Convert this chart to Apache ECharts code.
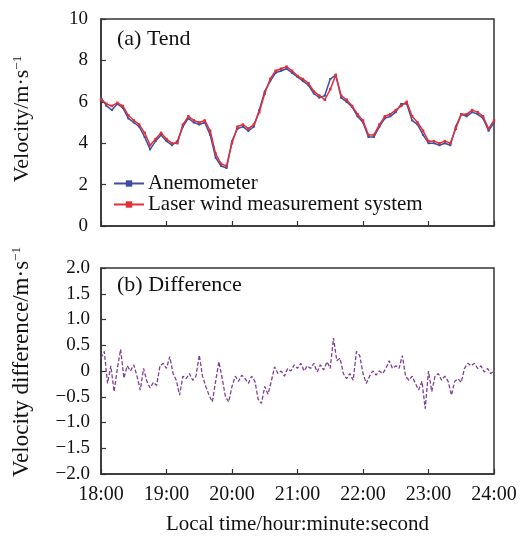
<!DOCTYPE html>
<html>
<head>
<meta charset="utf-8">
<script src="https://cdn.jsdelivr.net/npm/echarts@6/dist/echarts.min.js"></script>
<style>html,body{margin:0;padding:0;background:#fff}#c{width:527px;height:538px}</style>
</head>
<body>
<div id="c"></div>
<script>
// x tick labels (every 60 minutes from 18:00)
const xTickLabels = ['18:00','19:00','20:00','21:00','22:00','23:00','24:00'];
// velocity samples every 5 minutes from 18:00 (minutes since 18:00)
const velMinutes = [0,5,10,15,20,25,30,35,40,45,50,55,60,65,70,75,80,85,90,95,100,105,110,115,120,125,130,135,140,145,150,155,160,165,170,175,180,185,190,195,200,205,210,215,220,225,230,235,240,245,250,255,260,265,270,275,280,285,290,295,300,305,310,315,320,325,330,335,340,345,350,355,360];
const anemometer = [6.2,5.8,5.6,5.9,5.7,5.2,5.0,4.8,4.3,3.7,4.1,4.4,4.1,3.9,4.1,4.8,5.2,5.0,4.9,5.0,4.4,3.3,2.9,2.8,4.1,4.7,4.8,4.6,4.8,5.6,6.5,7.0,7.4,7.5,7.6,7.4,7.2,7.0,6.8,6.4,6.2,6.3,7.1,7.3,6.2,6.0,5.75,5.3,5.0,4.3,4.3,4.8,5.2,5.3,5.5,5.9,5.9,5.1,4.9,4.4,4.0,4.0,3.9,4.0,3.9,4.8,5.4,5.3,5.5,5.4,5.2,4.6,5.0];
const laser = [6.1,5.9,5.8,5.95,5.8,5.35,5.1,4.9,4.5,3.9,4.2,4.5,4.2,4.0,4.0,4.9,5.3,5.1,5.0,5.1,4.6,3.5,3.0,2.9,4.0,4.8,4.9,4.7,4.9,5.5,6.4,7.1,7.5,7.6,7.7,7.5,7.25,7.1,6.9,6.5,6.3,6.1,6.6,7.3,6.3,6.1,5.8,5.4,5.1,4.4,4.4,4.9,5.3,5.4,5.6,5.8,6.0,5.3,5.0,4.6,4.1,4.1,4.0,4.1,4.0,4.7,5.4,5.4,5.6,5.5,5.3,4.7,5.1];
// velocity difference samples every 3 minutes from 18:00
const diffMinutes = [0,3,6,9,12,15,18,21,24,27,30,33,36,39,42,45,48,51,54,57,60,63,66,69,72,75,78,81,84,87,90,93,96,99,102,105,108,111,114,117,120,123,126,129,132,135,138,141,144,147,150,153,156,159,162,165,168,171,174,177,180,183,186,189,192,195,198,201,204,207,210,213,216,219,222,225,228,231,234,237,240,243,246,249,252,255,258,261,264,267,270,273,276,279,282,285,288,291,294,297,300,303,306,309,312,315,318,321,324,327,330,333,336,339,342,345,348,351,354,357,360];
const difference = [0.25,0.38,-0.24,0.1,-0.4,0.05,0.42,-0.14,0.1,0.0,0.12,-0.1,-0.37,0.05,-0.2,-0.33,-0.22,-0.28,0.1,0.15,0.05,0.28,-0.05,-0.18,-0.47,-0.1,-0.15,-0.05,-0.18,-0.1,0.31,-0.1,-0.3,-0.47,-0.6,-0.2,0.18,-0.14,-0.5,-0.6,-0.3,-0.1,-0.2,-0.08,-0.15,-0.24,-0.1,-0.2,-0.55,-0.63,-0.3,-0.45,-0.2,0.08,-0.05,0.0,-0.1,0.05,0.0,0.12,0.05,0.15,0.0,0.1,0.05,0.15,-0.02,0.12,0.02,0.18,0.05,0.64,0.2,0.25,-0.05,-0.15,-0.05,-0.18,0.38,0.3,-0.05,-0.24,-0.1,0.0,-0.08,0.0,-0.05,0.05,0.2,0.05,0.1,0.05,0.3,-0.1,-0.18,-0.1,-0.24,-0.37,-0.2,-0.73,0.0,-0.4,-0.1,-0.05,-0.18,-0.1,-0.2,-0.47,-0.2,-0.15,-0.22,0.05,0.15,0.1,0.15,0.05,0.1,-0.02,0.05,-0.05,0.0];

const FONT = 'Liberation Serif';
const pair = (xs, ys) => xs.map((x, i) => [x, ys[i]]);
const fmtDiff = v => v === 0 ? '0' : (v < 0 ? '\u2212' + Math.abs(v).toFixed(1) : v.toFixed(1));

const chart = echarts.init(document.getElementById('c'));
const axisLine = { show: true, onZero: false, lineStyle: { color: '#333', width: 1.5 } };
const axisTick = { show: true, inside: true, length: 5, lineStyle: { color: '#333', width: 1.2 } };
chart.setOption({
  animation: false,
  backgroundColor: '#fff',
  grid: [
    { left: 101, top: 19, width: 393, height: 207, show: true, borderColor: '#333', borderWidth: 1.5 },
    { left: 101, top: 268, width: 393, height: 206, show: true, borderColor: '#333', borderWidth: 1.5 }
  ],
  xAxis: [
    { gridIndex: 0, type: 'value', min: 0, max: 360, interval: 60, axisLine, axisTick, splitLine: { show: false }, axisLabel: { show: false } },
    { gridIndex: 1, type: 'value', min: 0, max: 360, interval: 60, axisLine, axisTick, splitLine: { show: false },
      axisLabel: { fontFamily: FONT, fontSize: 20, color: '#111', margin: 11, formatter: v => xTickLabels[Math.round(v / 60)] },
      name: 'Local time/hour:minute:second', nameLocation: 'middle', nameGap: 40,
      nameTextStyle: { fontFamily: FONT, fontSize: 21, color: '#111' } }
  ],
  yAxis: [
    { gridIndex: 0, type: 'value', min: 0, max: 10, interval: 2, axisLine, axisTick, splitLine: { show: false },
      axisLabel: { fontFamily: FONT, fontSize: 19, color: '#111', margin: 13 } },
    { gridIndex: 1, type: 'value', min: -2, max: 2, interval: 0.5, axisLine, axisTick, splitLine: { show: false },
      axisLabel: { fontFamily: FONT, fontSize: 19, color: '#111', margin: 11, formatter: fmtDiff } }
  ],
  legend: {
    left: 108, top: 168, orient: 'vertical', itemWidth: 30, itemHeight: 8, itemGap: 0,
    textStyle: { fontFamily: FONT, fontSize: 21, color: '#111', lineHeight: 17, padding: [0, 0, 0, -1] },
    data: ['Anemometer', 'Laser wind measurement system']
  },
  graphic: [
    { type: 'text', left: 117, top: 28, style: { text: '(a) Tend', font: '22px "Liberation Serif"', fill: '#111' } },
    { type: 'text', left: 117, top: 274, style: { text: '(b) Difference', font: '22px "Liberation Serif"', fill: '#111' } },
    { type: 'text', x: 22, y: 119, rotation: Math.PI / 2,
      style: { text: 'Velocity/m·s{sup|−1}', font: '22px "Liberation Serif"', fill: '#111', align: 'center', verticalAlign: 'middle',
        rich: { sup: { fontSize: 13, fontFamily: FONT, verticalAlign: 'top', padding: [0, 0, 9, 0] } } } },
    { type: 'text', x: 22, y: 362, rotation: Math.PI / 2,
      style: { text: 'Velocity difference/m·s{sup|−1}', font: '23px "Liberation Serif"', fill: '#111', align: 'center', verticalAlign: 'middle',
        rich: { sup: { fontSize: 13, fontFamily: FONT, verticalAlign: 'top', padding: [0, 0, 9, 0] } } } }
  ],
  series: [
    { name: 'Anemometer', type: 'line', xAxisIndex: 0, yAxisIndex: 0, data: pair(velMinutes, anemometer),
      symbol: 'rect', symbolSize: 2, showSymbol: true, color: '#3d4fa3', lineStyle: { width: 1.5, color: '#3d4fa3' }, z: 3 },
    { name: 'Laser wind measurement system', type: 'line', xAxisIndex: 0, yAxisIndex: 0, data: pair(velMinutes, laser),
      symbol: 'rect', symbolSize: 2.5, showSymbol: true, color: '#e0303a', lineStyle: { width: 1.5, color: '#e0303a' }, z: 4 },
    { name: 'Difference', type: 'line', xAxisIndex: 1, yAxisIndex: 1, data: pair(diffMinutes, difference),
      symbol: 'none', color: '#7e3f98', lineStyle: { width: 1.3, color: '#7e3f98', type: [4, 2] } }
  ]
});
</script>
</body>
</html>
